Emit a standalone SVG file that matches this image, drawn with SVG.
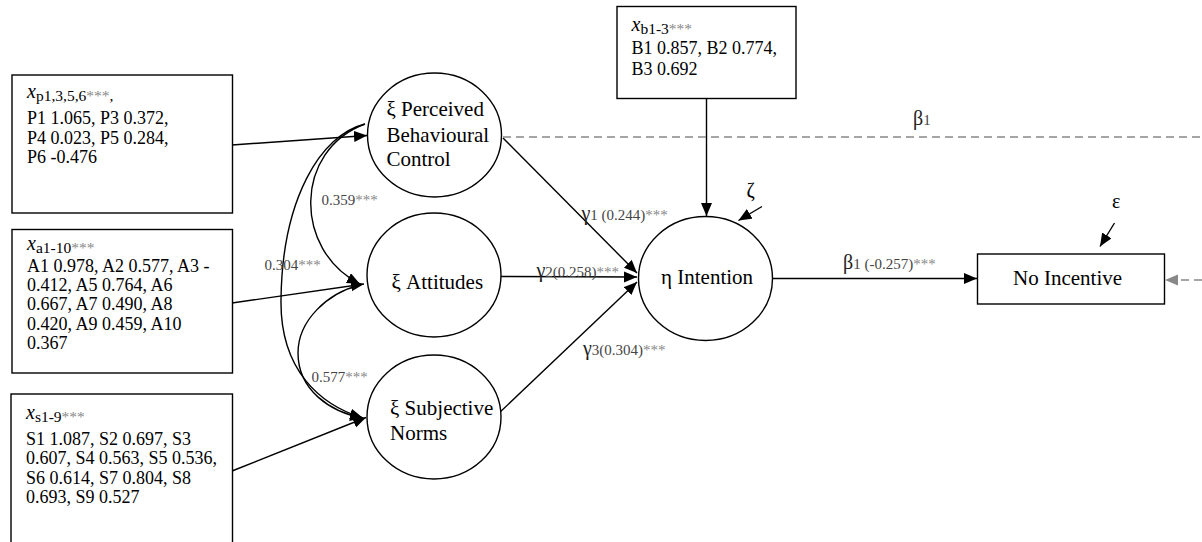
<svg xmlns="http://www.w3.org/2000/svg" width="1202" height="542" viewBox="0 0 1202 542" font-family="'Liberation Serif', 'Times New Roman', Times, 'DejaVu Serif', serif">
  <style>
    text { font-family: 'Liberation Serif', 'Times New Roman', Times, 'DejaVu Serif', serif; fill: #000; }
    .box { fill: #fff; stroke: #000; stroke-width: 1.4; }
    .lat { fill: #fff; stroke: #000; stroke-width: 1.4; }
    .item { font-size: 18px; }
    .node { font-size: 21px; }
    .coef { font-size: 15px; fill: #444; }
    .star { fill: #888; }
    .path { fill: none; stroke: #000; stroke-width: 1.4; }
    .dash { fill: none; stroke: #888; stroke-width: 1.4; stroke-dasharray: 8 5; }
  </style>
  <defs>
    <marker id="arrow" markerUnits="userSpaceOnUse" markerWidth="14" markerHeight="12" refX="13" refY="5.5" orient="auto">
      <path d="M0,0 L13,5.5 L0,11 z" fill="#000"/>
    </marker>
    <marker id="arrowGrey" markerUnits="userSpaceOnUse" markerWidth="14" markerHeight="12" refX="13" refY="5.5" orient="auto">
      <path d="M0,0 L13,5.5 L0,11 z" fill="#888"/>
    </marker>
  </defs>

  <rect width="1202" height="542" fill="#fff"/>

  <!-- connectors -->
  <g id="connectors">
    <!-- indicator blocks to latent factors -->
    <line class="path" x1="232" y1="145" x2="367" y2="135.5" marker-end="url(#arrow)"/>
    <line class="path" x1="232" y1="303" x2="364" y2="284" marker-end="url(#arrow)"/>
    <line class="path" x1="232" y1="471" x2="366" y2="417.5" marker-end="url(#arrow)"/>
    <line class="path" x1="706.5" y1="98" x2="706.5" y2="216" marker-end="url(#arrow)"/>

    <!-- factor correlations -->
    <path class="path" d="M365,124 C294,150 293,250 360,284" marker-end="url(#arrow)"/>
    <path class="path" d="M365,124 C320,135 282,200 281,300 C280,370 320,405 363,418" marker-end="url(#arrow)"/>
    <path class="path" d="M360,285 C328,293 298,320 298,353 C298,390 330,412 363,418" marker-end="url(#arrow)"/>

    <!-- structural paths -->
    <line class="path" x1="503" y1="138" x2="637" y2="273" marker-end="url(#arrow)"/>
    <line class="path" x1="501" y1="276.5" x2="637" y2="277" marker-end="url(#arrow)"/>
    <line class="path" x1="498" y1="414" x2="637" y2="282" marker-end="url(#arrow)"/>
    <line class="path" x1="772.5" y1="278.5" x2="977" y2="278.5" marker-end="url(#arrow)"/>

    <!-- disturbance terms -->
    <line class="path" x1="762" y1="206.5" x2="738.5" y2="220.5" marker-end="url(#arrow)"/>
    <line class="path" x1="1114.5" y1="223" x2="1100" y2="246.5" marker-end="url(#arrow)"/>

    <!-- direct path outside the frame -->
    <line class="dash" x1="503" y1="137" x2="1202" y2="137"/>
    <line class="dash" x1="1202" y1="280" x2="1165" y2="280" marker-end="url(#arrowGrey)"/>
  </g>

  <!-- path coefficients -->
  <g id="labels">
    <text class="coef" x="321.5" y="205">0.359<tspan class="star">***</tspan></text>
    <text class="coef" x="264.5" y="270">0.304<tspan class="star">***</tspan></text>
    <text class="coef" x="311.5" y="382">0.577<tspan class="star">***</tspan></text>
    <text class="coef" x="581.5" y="220"><tspan font-size="20" fill="#222">γ</tspan>1 (0.244)<tspan class="star">***</tspan></text>
    <text class="coef" x="536.5" y="276.5"><tspan font-size="20" fill="#222">γ</tspan>2(0.258)<tspan class="star">***</tspan></text>
    <text class="coef" x="583" y="355"><tspan font-size="20" fill="#222">γ</tspan>3(0.304)<tspan class="star">***</tspan></text>
    <text class="coef" x="843" y="268.5"><tspan font-size="20" fill="#222">β</tspan>1 (-0.257)<tspan class="star">***</tspan></text>
    <text class="coef" x="913" y="125"><tspan font-size="20" fill="#222">β</tspan>1</text>
    <text x="746.5" y="197" font-size="20">ζ</text>
    <text x="1112" y="208" font-size="20">ε</text>
  </g>

  <!-- indicator blocks -->
  <g id="box-pbc-items">
    <rect class="box" x="12" y="75" width="220.5" height="138"/>
    <text class="item" x="27" y="98"><tspan font-style="italic" font-size="20">x</tspan><tspan font-size="15.5" dy="3">p1,3,5,6</tspan><tspan class="star" font-size="15.5">***</tspan><tspan font-size="15.5">,</tspan></text>
    <text class="item" x="27" y="124">P1 1.065, P3 0.372,</text>
    <text class="item" x="27" y="143.5">P4 0.023, P5 0.284,</text>
    <text class="item" x="27" y="163">P6 -0.476</text>
  </g>

  <g id="box-att-items">
    <rect class="box" x="12" y="229.5" width="220.5" height="143.5"/>
    <text class="item" x="27" y="250"><tspan font-style="italic" font-size="20">x</tspan><tspan font-size="15.5" dy="3">a1-10</tspan><tspan class="star" font-size="15.5">***</tspan></text>
    <text class="item" x="27" y="272">A1 0.978, A2 0.577, A3 -</text>
    <text class="item" x="27" y="291">0.412, A5 0.764, A6</text>
    <text class="item" x="27" y="310">0.667, A7 0.490, A8</text>
    <text class="item" x="27" y="329.5">0.420, A9 0.459, A10</text>
    <text class="item" x="27" y="349">0.367</text>
  </g>

  <g id="box-sn-items">
    <rect class="box" x="11" y="394" width="221.5" height="160"/>
    <text class="item" x="26" y="419"><tspan font-style="italic" font-size="20">x</tspan><tspan font-size="15.5" dy="3">s1-9</tspan><tspan class="star" font-size="15.5">***</tspan></text>
    <text class="item" x="26" y="445">S1 1.087, S2 0.697, S3</text>
    <text class="item" x="26" y="464">0.607, S4 0.563, S5 0.536,</text>
    <text class="item" x="26" y="483.5">S6 0.614, S7 0.804, S8</text>
    <text class="item" x="26" y="502.5">0.693, S9 0.527</text>
  </g>

  <g id="box-int-items">
    <rect class="box" x="617" y="6.5" width="179" height="92"/>
    <text class="item" x="631.5" y="31"><tspan font-style="italic" font-size="20">x</tspan><tspan font-size="15.5" dy="3">b1-3</tspan><tspan class="star" font-size="15.5">***</tspan></text>
    <text class="item" x="631.5" y="54">B1 0.857, B2 0.774,</text>
    <text class="item" x="631.5" y="75">B3 0.692</text>
  </g>

  <!-- latent constructs -->
  <g id="pbc">
    <ellipse class="lat" cx="434.5" cy="135" rx="67" ry="62"/>
    <text class="node" x="386.5" y="116">ξ Perceived</text>
    <text class="node" x="386.5" y="141.5">Behavioural</text>
    <text class="node" x="386.5" y="165.5">Control</text>
  </g>

  <g id="attitudes">
    <ellipse class="lat" cx="434" cy="275" rx="67" ry="62"/>
    <text class="node" x="391.5" y="289">ξ Attitudes</text>
  </g>

  <g id="subjective-norms">
    <ellipse class="lat" cx="434" cy="417" rx="67" ry="62"/>
    <text class="node" x="390" y="415">ξ Subjective</text>
    <text class="node" x="390" y="440">Norms</text>
  </g>

  <g id="intention">
    <ellipse class="lat" cx="705.5" cy="278.5" rx="67" ry="62"/>
    <text class="node" x="661" y="284" font-size="21.5">η Intention</text>
  </g>

  <g id="no-incentive">
    <rect class="box" x="977.5" y="254" width="187" height="50"/>
    <text class="node" x="1013" y="285" font-size="21.5">No Incentive</text>
  </g>
</svg>
